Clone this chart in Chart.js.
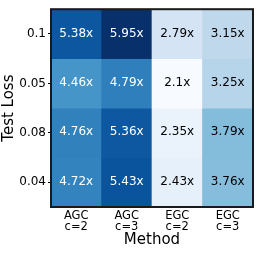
<!DOCTYPE html>
<html><head><meta charset="utf-8">
<script src="https://cdn.jsdelivr.net/npm/chart.js@4"></script>
<style>html,body{margin:0;padding:0;background:#fff}canvas{display:block}</style>
</head><body>
<canvas id="c" width="258" height="253"></canvas>
<script>
const methods = [["AGC","c=2"],["AGC","c=3"],["EGC","c=2"],["EGC","c=3"]];
const testLoss = ["0.1","0.05","0.08","0.04"];
const row0 = [5.38, 5.95, 2.79, 3.15];
const row1 = [4.46, 4.79, 2.1, 3.25];
const row2 = [4.76, 5.36, 2.35, 3.79];
const row3 = [4.72, 5.43, 2.43, 3.76];
const rows = [row0, row1, row2, row3];

const blues = ["#f7fbff","#deebf7","#c6dbef","#9ecae1","#6baed6","#4292c6","#2171b5","#08519c","#08306b"];
const all = rows.flat();
const vmin = Math.min(...all), vmax = Math.max(...all);
function hex(h){return [1,3,5].map(i=>parseInt(h.substr(i,2),16));}
function norm(v){return (v-vmin)/(vmax-vmin);}
function cmap(v){
  const t = Math.max(0,Math.min(1,norm(v)))*(blues.length-1);
  const i = Math.min(Math.floor(t), blues.length-2);
  const f = t-i;
  const a = hex(blues[i]), b = hex(blues[i+1]);
  const c = a.map((x,k)=>Math.round(x+(b[k]-x)*f));
  return `rgb(${c[0]},${c[1]},${c[2]})`;
}

const datasets = rows.map((vals, r) => ({
  label: testLoss[r],
  data: vals.map(() => [r, r+1]),
  values: vals,
  backgroundColor: vals.map(cmap),
  borderWidth: 0,
  barPercentage: 1,
  categoryPercentage: 1,
  grouped: false
}));

const cellText = {
  id: 'cellText',
  afterDatasetsDraw(chart){
    const ctx = chart.ctx;
    ctx.save();
    ctx.font = '12px "DejaVu Sans"';
    ctx.textAlign = 'center';
    ctx.textBaseline = 'middle';
    chart.data.datasets.forEach((ds, di) => {
      chart.getDatasetMeta(di).data.forEach((el, i) => {
        const v = ds.values[i];
        ctx.fillStyle = norm(v) > 0.5 ? '#ffffff' : '#000000';
        ctx.fillText(v + 'x', el.x, (el.y + el.base)/2 - 0.5);
      });
    });
    const a = chart.chartArea;
    ctx.strokeStyle = '#1a1a1a';
    ctx.lineWidth = 2;
    ctx.strokeRect(a.left, a.top, a.right-a.left, a.bottom-a.top);
    ctx.restore();
  }
};

new Chart(document.getElementById('c'), {
  type: 'bar',
  data: { labels: methods, datasets },
  plugins: [cellText],
  options: {
    responsive: false,
    animation: false,
    devicePixelRatio: 1,
    layout: { padding: { left: 0, right: 5, top: 4, bottom: 0 } },
    plugins: { legend: { display: false }, tooltip: { enabled: false } },
    scales: {
      x: {
        type: 'category',
        grid: { display: false, drawTicks: false },
        border: { display: false },
        ticks: { color: '#000', font: { family: 'DejaVu Sans', size: 11.5, lineHeight: 0.98 }, padding: 3, maxRotation: 0, autoSkip: false },
        title: { display: true, text: 'Method', color: '#000', font: { family: 'DejaVu Sans', size: 15 }, padding: { top: 0, bottom: 4 } },
        afterFit(s){ s.height = 46; }
      },
      y: {
        type: 'linear', min: 0, max: 4, reverse: true,
        afterBuildTicks(s){ s.ticks = [0.5,1.5,2.5,3.5].map(v=>({value:v})); },
        grid: { display: true, drawOnChartArea: false, drawTicks: true, tickLength: 3, color: '#000', lineWidth: 1 },
        border: { display: false },
        ticks: { color: '#000', font: { family: 'DejaVu Sans', size: 12 }, padding: 2, callback: (v, i) => testLoss[i] },
        title: { display: true, text: 'Test Loss', color: '#000', font: { family: 'DejaVu Sans', size: 15 }, padding: { top: 0, bottom: 0 } },
        afterFit(s){ s.width = 51; }
      }
    }
  }
});
</script>
</body></html>
